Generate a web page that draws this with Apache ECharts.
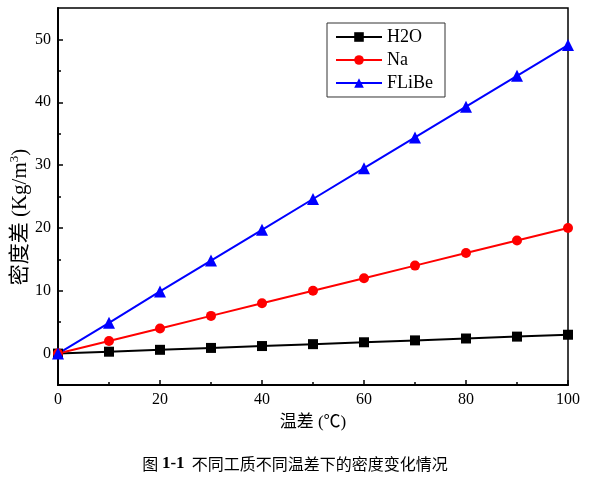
<!DOCTYPE html>
<html><head><meta charset="utf-8">
<script src="https://cdn.jsdelivr.net/npm/echarts@6/dist/echarts.min.js"></script>
<style>html,body{margin:0;padding:0;background:#fff}#c{width:590px;height:484px}</style>
</head><body><div id="c"></div>
<script>
var temps = [0,10,20,30,40,50,60,70,80,90,100];
var h2o = [0,0.3,0.6,0.9,1.2,1.5,1.8,2.1,2.4,2.7,3.0];
var na = [0,2,4,6,8,10,12,14,16,18,20];
var flibe = [0,4.9,9.9,14.8,19.7,24.6,29.5,34.4,39.3,44.2,49.1];
var seriesNames = ['H2O','Na','FLiBe'];
var xTicks = [0,20,40,60,80,100];
var yTicks = [0,10,20,30,40,50];
var yMinorTicks = [5,15,25,35,45];

function pairs(v){ return temps.map(function(t,i){ return [t, v[i]]; }); }
var serif = '"Liberation Serif","Noto Sans CJK SC",serif';
var chart = echarts.init(document.getElementById('c'));
chart.setOption({
  animation:false,
  backgroundColor:'#fff',
  grid:{left:58,right:22,top:8,bottom:99,show:true,borderColor:'#000',borderWidth:1.5,backgroundColor:'transparent'},
  legend:{
    left:327, top:23, orient:'vertical', itemGap:5, itemWidth:46, itemHeight:12,
    padding:[5,12,5,8], borderColor:'#333', borderWidth:1,
    textStyle:{fontFamily:serif, fontSize:18, color:'#000'},
    data:seriesNames
  },
  xAxis:{
    type:'value', min:0, max:100, interval:20,
    name:'温差 (℃)', nameLocation:'middle', nameGap:29,
    nameTextStyle:{fontFamily:serif, fontSize:17, color:'#000'},
    axisLine:{onZero:false, lineStyle:{color:'#000',width:2}},
    axisTick:{show:true, inside:true, length:5, lineStyle:{color:'#000',width:1.5}},
    minorTick:{show:true, splitNumber:2, length:3, lineStyle:{color:'#000',width:1.5}},
    axisLabel:{fontFamily:serif, fontSize:16, color:'#000', margin:7,
      formatter:function(v){ return xTicks.indexOf(v)>=0 ? String(v) : ''; }},
    splitLine:{show:false}
  },
  yAxis:[{
    type:'value', min:-5, max:55, interval:5,
    axisLine:{onZero:false, lineStyle:{color:'#000',width:2}},
    axisTick:{show:true, inside:true, length:5, customValues:yTicks, lineStyle:{color:'#000',width:1.5}},
    axisLabel:{fontFamily:serif, fontSize:16, color:'#000', margin:7, customValues:yTicks,
      formatter:function(v){ return yTicks.indexOf(v)>=0 ? String(v) : ''; }},
    splitLine:{show:false}
  },{
    type:'value', min:-5, max:55, interval:5, position:'left',
    axisLine:{show:false, onZero:false},
    axisTick:{show:true, inside:true, length:3, customValues:yMinorTicks, lineStyle:{color:'#000',width:1.5}},
    axisLabel:{show:false},
    splitLine:{show:false}
  }],
  series:[
    {name:seriesNames[0], type:'line', data:pairs(h2o), symbol:'rect', symbolSize:10,
      lineStyle:{color:'#000',width:2}, itemStyle:{color:'#000'}},
    {name:seriesNames[1], type:'line', data:pairs(na), symbol:'circle', symbolSize:10,
      lineStyle:{color:'#ff0000',width:2}, itemStyle:{color:'#ff0000'}},
    {name:seriesNames[2], type:'line', data:pairs(flibe), symbol:'triangle', symbolSize:12,
      lineStyle:{color:'#0000ff',width:2}, itemStyle:{color:'#0000ff'}}
  ],
  graphic:[{
    type:'text', x:20, y:217, rotation:Math.PI/2,
    style:{
      text:'{a|密度差 (Kg/m}{s|3}{a|)}',
      align:'center', verticalAlign:'middle',
      rich:{
        a:{fontFamily:serif, fontSize:21, fill:'#000'},
        s:{fontFamily:serif, fontSize:13, fill:'#000', verticalAlign:'top', padding:[0,0,10,0]}
      }
    }
  },{
    type:'text', left:'center', top:455,
    style:{
      text:'{a|图 }{b|1-1}{a|  不同工质不同温差下的密度变化情况}',
      rich:{
        a:{fontFamily:'"Noto Sans CJK SC",serif', fontSize:16, fill:'#000'},
        b:{fontFamily:serif, fontSize:17, fontWeight:'bold', fill:'#000'}
      }
    }
  }]
});
</script></body></html>
